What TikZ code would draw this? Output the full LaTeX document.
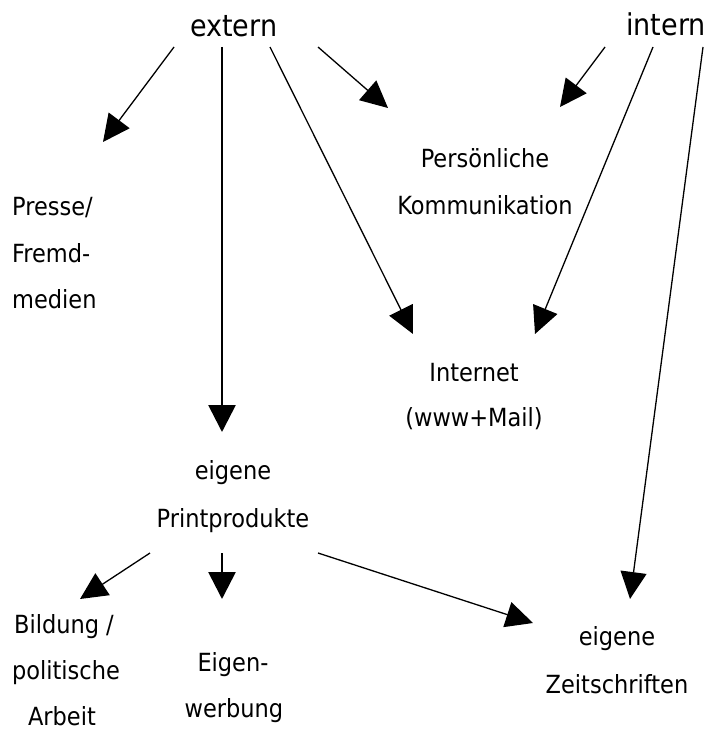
\documentclass[tikz,border=0pt]{standalone}
\usepackage{fontspec}
\setmainfont{DejaVu Sans Condensed}
\usetikzlibrary{arrows.meta}
\begin{document}
\begin{tikzpicture}[x=1pt,y=-1pt,
  lbl/.style={inner sep=0pt, anchor=base, font=\fontsize{25}{30}\selectfont},
  lbll/.style={inner sep=0pt, anchor=base west, font=\fontsize{25}{30}\selectfont},
  head/.style={inner sep=0pt, anchor=base west, font=\fontsize{30}{36}\selectfont},
  arr/.style={line width=1.3pt, -{Triangle[length=27pt,width=26pt]}},
  thickarr/.style={line width=2.7pt, -{Triangle[length=27pt,width=27pt]}}]
\useasboundingbox (0,0) rectangle (707,733);
% headings
\node[head] (extern) at (190,37) {extern};
\node[head] (intern) at (626,36) {intern};
% labels
\node[lbll] (pr1) at (12,215) {Presse/};
\node[lbll] (pr2) at (12,262) {Fremd-};
\node[lbll] (pr3) at (12,308) {medien};
\node[lbl] (pk1) at (485,167) {Persönliche};
\node[lbl] (pk2) at (485,214) {Kommunikation};
\node[lbl] (in1) at (474,381) {Internet};
\node[lbl] (in2) at (474,426) {(www+Mail)};
\node[lbl] (ep1) at (233,479) {eigene};
\node[lbl] (ep2) at (233,527) {Printprodukte};
\node[lbl] (bi1) at (64,633) {Bildung /};
\node[lbl] (bi2) at (66,679) {politische};
\node[lbl] (bi3) at (62,725) {Arbeit};
\node[lbl] (ew1) at (233,671) {Eigen-};
\node[lbl] (ew2) at (234,717) {werbung};
\node[lbl] (ez1) at (617,645) {eigene};
\node[lbl] (ez2) at (617,693) {Zeitschriften};
% connector ends
\coordinate (xa) at (174,47);
\coordinate (xb) at (222,47);
\coordinate (xc) at (270,47);
\coordinate (xd) at (318,47);
\coordinate (ia) at (605,47);
\coordinate (ib) at (653,47);
\coordinate (ic) at (703,47);
\coordinate (tpr) at (103,142);
\coordinate (tep) at (222,432);
\coordinate (tin1) at (413,334);
\coordinate (tin2) at (535,334);
\coordinate (tpk1) at (388,108);
\coordinate (tpk2) at (560,107);
\coordinate (tez1) at (630,599);
\coordinate (pa) at (150,553);
\coordinate (pb) at (222,553);
\coordinate (pc) at (318,553);
\coordinate (tbi) at (80,599);
\coordinate (tew) at (222,599);
\coordinate (tez2) at (533,623);
% connectors
\draw[arr] (xa) -- (tpr);
\draw[thickarr] (xb) -- (tep);
\draw[arr] (xc) -- (tin1);
\draw[arr] (xd) -- (tpk1);
\draw[arr] (ia) -- (tpk2);
\draw[arr] (ib) -- (tin2);
\draw[arr] (ic) -- (tez1);
\draw[arr] (pa) -- (tbi);
\draw[thickarr] (pb) -- (tew);
\draw[arr] (pc) -- (tez2);
\end{tikzpicture}
\end{document}
